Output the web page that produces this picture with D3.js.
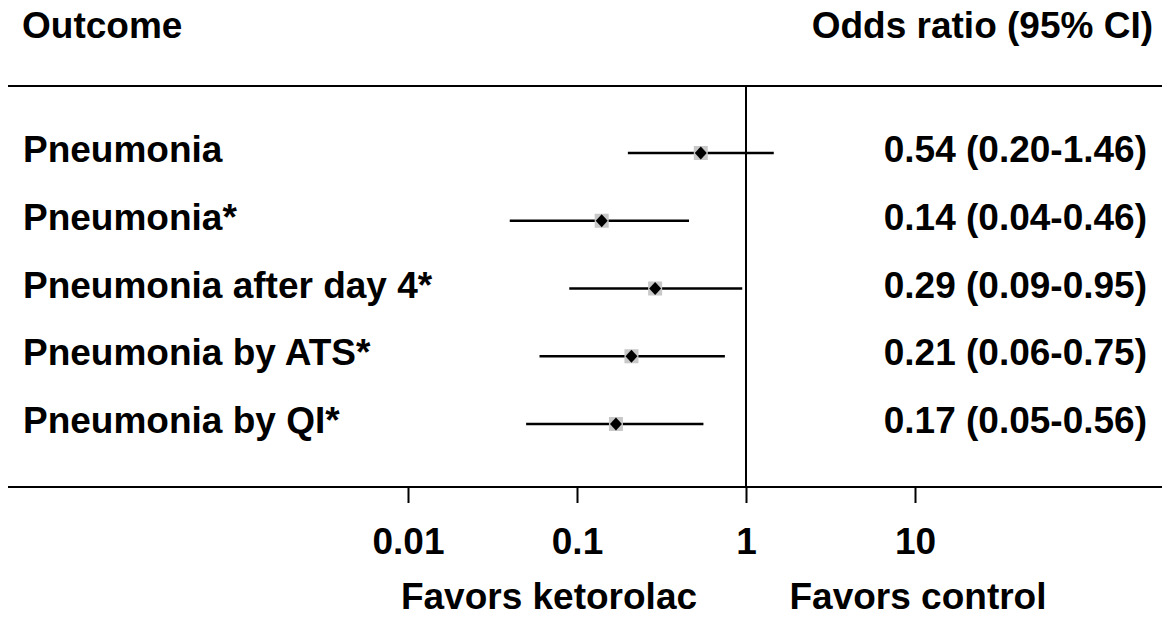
<!DOCTYPE html>
<html>
<head>
<meta charset="utf-8">
<script src="https://cdn.jsdelivr.net/npm/d3@7"></script>
<style>
  html, body { margin: 0; padding: 0; background: #fff; }
  svg { display: block; }
  text { font-family: "Liberation Sans", Arial, sans-serif; font-weight: bold; fill: #000; }
</style>
</head>
<body>
<svg id="chart" width="1163" height="618"></svg>
<script>
const outcomes = ["Pneumonia", "Pneumonia*", "Pneumonia after day 4*", "Pneumonia by ATS*", "Pneumonia by QI*"];
const oddsRatio = [0.54, 0.14, 0.29, 0.21, 0.17];
const ciLower = [0.20, 0.04, 0.09, 0.06, 0.05];
const ciUpper = [1.46, 0.46, 0.95, 0.75, 0.56];
const tickValues = [0.01, 0.1, 1, 10];
const tickLabels = ["0.01", "0.1", "1", "10"];
const headerLeft = "Outcome";
const headerRight = "Odds ratio (95% CI)";
const favorsLeft = "Favors ketorolac";
const favorsRight = "Favors control";

const rows = outcomes.map((o, i) => ({ name: o, or: oddsRatio[i], lo: ciLower[i], hi: ciUpper[i] }));
const fmt = d3.format(".2f");
const FS = 37;

const svg = d3.select("#chart");
const topLine = 86, bottomLine = 487;

const x = d3.scaleLog().domain([0.01, 10]).range([408, 915]);
const y = d3.scalePoint().domain(outcomes).range([153, 424]);

// headers
svg.append("text").attr("x", 22).attr("y", 38).attr("font-size", FS).text(headerLeft);
svg.append("text").attr("x", 1153).attr("y", 38).attr("font-size", FS).attr("text-anchor", "end").text(headerRight);

// horizontal rules
svg.append("line").attr("x1", 8).attr("x2", 1162).attr("y1", topLine).attr("y2", topLine)
  .attr("stroke", "#000").attr("stroke-width", 2.2);
svg.append("line").attr("x1", 8).attr("x2", 1162).attr("y1", bottomLine).attr("y2", bottomLine)
  .attr("stroke", "#000").attr("stroke-width", 2.2);

// null line
svg.append("line").attr("x1", x(1)).attr("x2", x(1)).attr("y1", topLine).attr("y2", bottomLine)
  .attr("stroke", "#000").attr("stroke-width", 2);

// axis
const axis = d3.axisBottom(x).tickValues(tickValues)
  .tickFormat((d, i) => tickLabels[i]).tickSize(16).tickPadding(25);
const ag = svg.append("g").attr("transform", `translate(0,${bottomLine})`).call(axis);
ag.select(".domain").remove();
ag.selectAll(".tick line").attr("stroke", "#000").attr("stroke-width", 2);
ag.selectAll(".tick text").attr("font-size", FS)
  .style("font-family", '"Liberation Sans", Arial, sans-serif').style("font-weight", "bold").attr("fill", "#000");

// rows
const g = svg.append("g");
rows.forEach(r => {
  const yy = y(r.name);
  g.append("text").attr("x", 23).attr("y", yy + 9).attr("font-size", FS).text(r.name);
  g.append("line").attr("x1", x(r.lo)).attr("x2", x(r.hi)).attr("y1", yy).attr("y2", yy)
    .attr("stroke", "#000").attr("stroke-width", 2.6);
  g.append("rect").attr("x", x(r.or) - 7).attr("y", yy - 7).attr("width", 14).attr("height", 14)
    .attr("fill", "#c8c8c8");
  g.append("path")
    .attr("d", `M${x(r.or)},${yy - 6.5}L${x(r.or) + 6},${yy}L${x(r.or)},${yy + 6.5}L${x(r.or) - 6},${yy}Z`)
    .attr("fill", "#000");
  g.append("text").attr("x", 1147).attr("y", yy + 9).attr("font-size", FS).attr("text-anchor", "end")
    .text(`${fmt(r.or)} (${fmt(r.lo)}-${fmt(r.hi)})`);
});

// favors labels
svg.append("text").attr("x", 549).attr("y", 609).attr("font-size", FS).attr("text-anchor", "middle").text(favorsLeft);
svg.append("text").attr("x", 918).attr("y", 609).attr("font-size", FS).attr("text-anchor", "middle").text(favorsRight);
</script>
</body>
</html>
